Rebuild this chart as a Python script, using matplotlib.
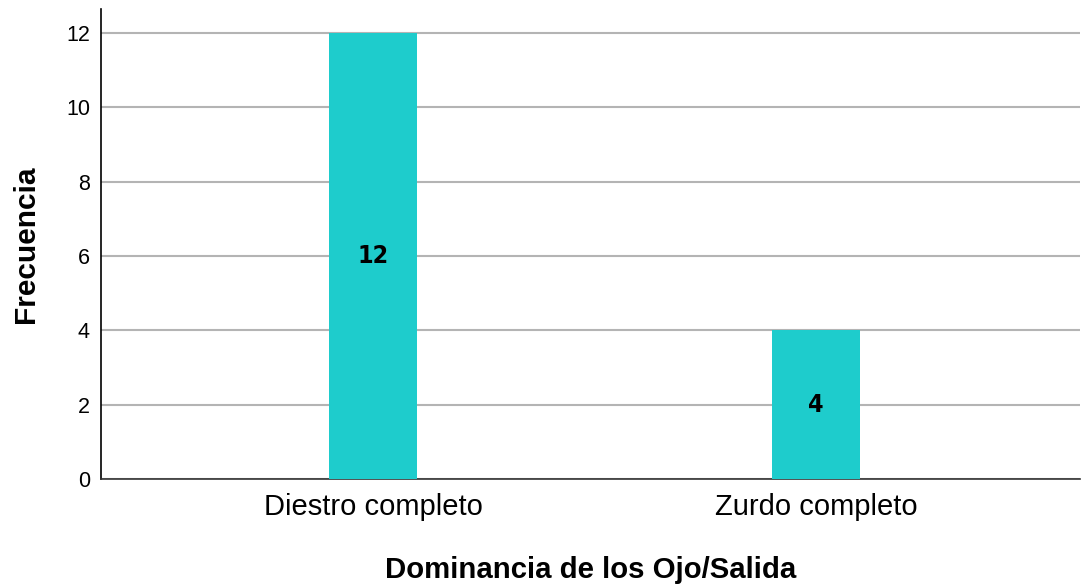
import matplotlib.pyplot as plt
from matplotlib import font_manager

categories = ['Diestro completo', 'Zurdo completo']
counts = [12, 4]
yticks = [0, 2, 4, 6, 8, 10, 12]

plt.rcParams['font.family'] = ['Liberation Sans', 'DejaVu Sans']

# narrow bold font for the value labels, if available
names = {f.name for f in font_manager.fontManager.ttflist}
if 'Liberation Sans Narrow' in names:
    label_font = dict(family=['Liberation Sans Narrow'])
else:
    label_font = dict(family=['DejaVu Sans'], stretch='condensed')

fig = plt.figure(figsize=(10.81, 5.85), dpi=100)
ax = fig.add_axes([101 / 1081, 1 - 479 / 585, 979 / 1081, 470 / 585])

x = list(range(len(categories)))
bars = ax.bar(x, counts, width=0.2, color='#1ecccc', zorder=3)

for xi, c in zip(x, counts):
    ax.text(xi, c / 2, str(c), ha='center', va='center', fontsize=18,
            fontweight='bold', zorder=4, **label_font)

ax.set_xlim(-0.614, 1.596)
ax.set_ylim(0, 12.65)
ax.set_yticks(yticks)
ax.set_xticks(x)
ax.set_xticklabels(categories, fontsize=21)
ax.tick_params(axis='y', labelsize=15.5, length=0, pad=8)
ax.tick_params(axis='x', length=0, pad=10)
ax.yaxis.grid(True, color='#b4b4b4', linewidth=1.5, zorder=0)

ax.spines['top'].set_visible(False)
ax.spines['right'].set_visible(False)
ax.spines['left'].set_color('black')
ax.spines['bottom'].set_color('#333333')
ax.spines['left'].set_linewidth(1.2)
ax.spines['bottom'].set_linewidth(1.2)

ax.set_ylabel('Frecuencia', fontsize=21.5, fontweight='bold', labelpad=19)
ax.set_xlabel('Dominancia de los Ojo/Salida', fontsize=21.2, fontweight='bold', labelpad=25)

fig.savefig('out.png', dpi=100)
